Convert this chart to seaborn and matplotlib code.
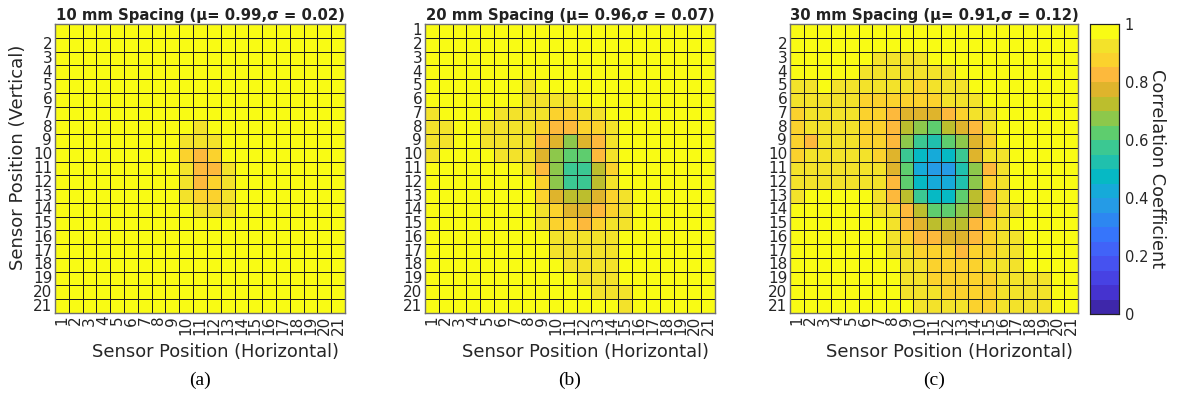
import numpy as np
import matplotlib
matplotlib.use("Agg")
import matplotlib.pyplot as plt
from matplotlib.colors import ListedColormap
import seaborn as sns

# ---------------- data ----------------
positions = [str(i) for i in range(1, 22)]
titles = ["10 mm Spacing (μ= 0.99,σ = 0.02)",
          "20 mm Spacing (μ= 0.96,σ = 0.07)",
          "30 mm Spacing (μ= 0.91,σ = 0.12)"]
panel_letters = ["(a)", "(b)", "(c)"]
cbar_ticks = [0, 0.2, 0.4, 0.6, 0.8, 1.0]
cbar_ticklabels = ["0", "0.2", "0.4", "0.6", "0.8", "1"]

corr_10mm = [
 [.99,.99,.99,.99,.99,.99,.99,.99,.99,.99,.99,.99,.99,.99,.99,.99,.99,.99,.99,.99,.99],
 [.99,.99,.99,.99,.99,.99,.99,.99,.99,.99,.99,.99,.99,.99,.99,.99,.99,.99,.99,.99,.99],
 [.99,.99,.99,.99,.99,.99,.99,.99,.99,.99,.99,.99,.99,.99,.99,.99,.99,.99,.99,.99,.99],
 [.99,.99,.99,.99,.99,.99,.99,.99,.99,.99,.99,.99,.99,.99,.99,.99,.99,.99,.99,.99,.99],
 [.99,.99,.99,.99,.99,.99,.99,.99,.99,.99,.99,.99,.99,.99,.99,.99,.99,.99,.99,.99,.99],
 [.99,.99,.99,.99,.99,.99,.99,.99,.99,.99,.99,.99,.99,.99,.99,.99,.99,.99,.99,.99,.99],
 [.99,.99,.99,.99,.99,.99,.99,.99,.99,.99,.99,.99,.99,.99,.99,.99,.99,.99,.99,.99,.99],
 [.99,.99,.99,.99,.99,.99,.99,.99,.99,.99,.93,.99,.99,.99,.99,.99,.99,.99,.99,.99,.99],
 [.99,.99,.99,.99,.99,.99,.99,.99,.99,.93,.93,.93,.99,.99,.99,.99,.99,.99,.99,.99,.99],
 [.99,.99,.99,.99,.99,.99,.99,.99,.99,.88,.83,.88,.99,.99,.99,.99,.99,.99,.99,.99,.99],
 [.99,.99,.99,.99,.99,.99,.99,.99,.99,.93,.83,.83,.93,.99,.99,.99,.99,.99,.99,.99,.99],
 [.99,.99,.99,.99,.99,.99,.99,.99,.99,.93,.83,.88,.93,.99,.99,.99,.99,.99,.99,.99,.99],
 [.99,.99,.99,.99,.99,.99,.99,.99,.99,.93,.88,.88,.93,.99,.99,.99,.99,.99,.99,.99,.99],
 [.99,.99,.99,.99,.99,.99,.99,.99,.99,.99,.93,.93,.93,.99,.99,.99,.99,.99,.99,.99,.99],
 [.99,.99,.99,.99,.99,.99,.99,.99,.99,.99,.99,.99,.99,.99,.99,.99,.99,.99,.99,.99,.99],
 [.99,.99,.99,.99,.99,.99,.99,.99,.99,.99,.99,.99,.99,.99,.99,.99,.99,.99,.99,.99,.99],
 [.99,.99,.99,.99,.99,.99,.99,.99,.99,.99,.99,.99,.99,.99,.99,.99,.99,.99,.99,.99,.99],
 [.99,.99,.99,.99,.99,.99,.99,.99,.99,.99,.99,.99,.99,.99,.99,.99,.99,.99,.99,.99,.99],
 [.99,.99,.99,.99,.99,.99,.99,.99,.99,.99,.99,.99,.99,.99,.99,.99,.99,.99,.99,.99,.99],
 [.99,.99,.99,.99,.99,.99,.99,.99,.99,.99,.99,.99,.99,.99,.99,.99,.99,.99,.99,.99,.99],
 [.99,.99,.99,.99,.99,.99,.99,.99,.99,.99,.99,.99,.99,.99,.99,.99,.99,.99,.99,.99,.99],
]

corr_20mm = [
 [.99,.99,.99,.99,.99,.99,.99,.99,.99,.99,.99,.99,.99,.99,.99,.99,.99,.99,.99,.99,.99],
 [.99,.99,.99,.99,.99,.99,.99,.99,.99,.99,.99,.99,.99,.99,.99,.99,.99,.99,.99,.99,.99],
 [.99,.99,.99,.99,.99,.99,.99,.99,.99,.99,.99,.99,.99,.99,.99,.99,.99,.99,.99,.99,.99],
 [.99,.99,.99,.99,.99,.99,.99,.99,.99,.99,.99,.99,.99,.99,.99,.99,.99,.99,.99,.99,.99],
 [.99,.99,.99,.99,.99,.99,.99,.93,.99,.99,.99,.99,.99,.99,.99,.99,.99,.99,.99,.99,.99],
 [.99,.99,.99,.99,.99,.99,.99,.93,.93,.93,.93,.99,.99,.99,.99,.99,.99,.99,.99,.99,.99],
 [.93,.99,.99,.99,.99,.93,.93,.93,.93,.88,.88,.93,.93,.99,.99,.99,.99,.99,.99,.99,.99],
 [.93,.93,.99,.99,.93,.93,.93,.93,.88,.83,.83,.88,.88,.93,.99,.99,.99,.99,.99,.99,.99],
 [.93,.93,.99,.99,.93,.93,.93,.93,.83,.78,.68,.78,.83,.93,.99,.99,.99,.99,.99,.99,.99],
 [.93,.99,.99,.99,.99,.93,.93,.93,.78,.68,.63,.63,.83,.93,.99,.99,.99,.99,.99,.99,.99],
 [.99,.99,.99,.99,.99,.99,.99,.93,.83,.68,.58,.58,.73,.88,.99,.99,.99,.99,.99,.99,.99],
 [.99,.99,.99,.99,.99,.99,.99,.99,.88,.68,.58,.58,.73,.93,.99,.99,.99,.99,.99,.99,.99],
 [.99,.99,.99,.99,.99,.99,.99,.99,.88,.78,.73,.73,.78,.88,.93,.99,.99,.99,.99,.99,.99],
 [.99,.99,.99,.99,.99,.99,.99,.99,.93,.88,.78,.78,.83,.88,.93,.99,.99,.99,.99,.99,.99],
 [.99,.99,.99,.99,.99,.99,.99,.99,.93,.88,.88,.83,.88,.93,.93,.99,.99,.99,.99,.99,.99],
 [.99,.99,.99,.99,.99,.99,.99,.99,.99,.93,.93,.93,.93,.93,.99,.99,.99,.99,.99,.99,.99],
 [.99,.99,.99,.99,.99,.99,.99,.99,.99,.93,.93,.93,.93,.93,.99,.99,.99,.99,.99,.99,.99],
 [.99,.99,.99,.99,.99,.99,.99,.99,.99,.99,.93,.93,.93,.93,.99,.99,.99,.99,.99,.99,.99],
 [.99,.99,.99,.99,.99,.99,.99,.99,.99,.99,.99,.93,.93,.93,.99,.99,.99,.99,.99,.99,.99],
 [.99,.99,.99,.99,.99,.99,.99,.99,.99,.99,.99,.99,.93,.93,.93,.99,.99,.99,.99,.99,.99],
 [.99,.99,.99,.99,.99,.99,.99,.99,.99,.99,.99,.99,.99,.99,.93,.99,.99,.99,.99,.99,.99],
]

corr_30mm = [
 [.99,.99,.99,.99,.99,.99,.99,.99,.99,.99,.99,.99,.99,.99,.99,.99,.99,.99,.99,.99,.99],
 [.99,.99,.99,.99,.99,.99,.99,.99,.99,.99,.99,.99,.99,.99,.99,.99,.99,.99,.99,.99,.99],
 [.99,.99,.99,.99,.99,.99,.93,.93,.93,.93,.99,.99,.99,.99,.99,.99,.99,.99,.99,.99,.99],
 [.99,.99,.99,.99,.99,.93,.93,.93,.93,.93,.93,.93,.99,.99,.99,.99,.99,.99,.99,.99,.99],
 [.93,.93,.99,.93,.93,.93,.93,.93,.93,.88,.93,.93,.93,.99,.99,.99,.99,.99,.99,.99,.99],
 [.93,.93,.93,.93,.93,.88,.88,.88,.88,.88,.88,.93,.93,.93,.99,.99,.99,.99,.99,.99,.99],
 [.88,.93,.93,.93,.93,.88,.88,.83,.78,.78,.78,.83,.88,.93,.93,.99,.99,.99,.99,.99,.99],
 [.88,.93,.93,.93,.93,.88,.88,.83,.73,.68,.63,.73,.78,.83,.93,.99,.99,.99,.99,.99,.99],
 [.88,.83,.93,.93,.93,.88,.88,.83,.68,.58,.53,.63,.68,.78,.88,.99,.99,.99,.99,.99,.99],
 [.88,.93,.93,.93,.93,.93,.88,.78,.58,.48,.43,.48,.58,.78,.93,.93,.99,.99,.99,.99,.99],
 [.93,.93,.93,.93,.93,.93,.93,.78,.63,.43,.38,.38,.53,.68,.83,.93,.99,.99,.99,.99,.99],
 [.93,.93,.93,.93,.93,.93,.93,.83,.63,.48,.43,.43,.53,.68,.88,.93,.99,.99,.99,.99,.99],
 [.93,.99,.99,.99,.99,.99,.93,.83,.73,.58,.48,.48,.63,.73,.83,.93,.99,.99,.99,.99,.99],
 [.99,.99,.99,.99,.99,.99,.93,.93,.83,.73,.63,.63,.68,.73,.83,.93,.93,.99,.99,.99,.99],
 [.99,.99,.99,.99,.99,.99,.99,.93,.83,.78,.73,.73,.73,.83,.88,.93,.99,.99,.99,.99,.99],
 [.99,.99,.99,.99,.99,.99,.99,.93,.88,.83,.83,.78,.78,.83,.88,.93,.93,.99,.99,.99,.99],
 [.99,.99,.99,.99,.99,.99,.99,.93,.93,.88,.88,.88,.83,.88,.88,.93,.93,.99,.99,.99,.99],
 [.99,.99,.99,.99,.99,.99,.99,.99,.93,.93,.88,.88,.88,.88,.93,.93,.93,.99,.99,.99,.99],
 [.99,.99,.99,.99,.99,.99,.99,.99,.93,.93,.88,.88,.88,.88,.88,.93,.93,.93,.93,.99,.99],
 [.99,.99,.99,.99,.99,.99,.99,.99,.93,.93,.93,.88,.88,.88,.88,.93,.93,.93,.93,.99,.99],
 [.99,.99,.99,.99,.99,.99,.99,.99,.99,.93,.93,.93,.93,.88,.88,.93,.93,.93,.93,.99,.99],
]

# ---------------- style ----------------
sns.set_style("white")
plt.rcParams["font.family"] = ["DejaVu Sans"]
TXT = "#262626"

# 20-level parula-like colormap (bottom -> top)
parula20 = ["#3e27aa", "#4533cf", "#4742e3", "#4652f0", "#4163f8",
            "#3675fb", "#2d87f1", "#259be6", "#16aad9", "#06b9c4",
            "#20c0ad", "#3bc892", "#5ecd6e", "#8dc84b", "#bcbe2d",
            "#dfb42c", "#fdb93c", "#fbd22d", "#f3e22a", "#f9fb14"]
cmap = ListedColormap(parula20)

W, H = 1185, 396
fig = plt.figure(figsize=(W / 100, H / 100), dpi=100)

ax_px = [(55, 290), (425, 290), (790, 288)]
top_px, bot_px = 24, 313
cbar_px = (1090, 29, 24, 314)

datasets = [corr_10mm, corr_20mm, corr_30mm]
ylabel_sets = [[""] + positions[1:], positions, [""] + positions[1:]]

cax = fig.add_axes([cbar_px[0] / W, 1 - cbar_px[3] / H, cbar_px[1] / W,
                    (cbar_px[3] - cbar_px[2]) / H])

for i, (data, (lx, wx)) in enumerate(zip(datasets, ax_px)):
    ax = fig.add_axes([lx / W, 1 - bot_px / H, wx / W, (bot_px - top_px) / H])
    arr = np.array(data)
    sns.heatmap(arr, ax=ax, cmap=cmap, vmin=0, vmax=1,
                linewidths=0.55, linecolor="#1e1e1e",
                xticklabels=positions, yticklabels=ylabel_sets[i],
                cbar=(i == 2), cbar_ax=cax if i == 2 else None,
                cbar_kws={"ticks": cbar_ticks} if i == 2 else None)
    for s in ax.spines.values():
        s.set_visible(True)
        s.set_color("#707070")
        s.set_linewidth(1.0)
    ax.tick_params(length=0, pad=2, labelsize=11, colors=TXT)
    plt.setp(ax.get_xticklabels(), rotation=90, ha="center", va="top")
    plt.setp(ax.get_yticklabels(), rotation=0, ha="right", va="center")
    ax.set_title(titles[i], fontsize=10.7, fontweight="bold", color="#222222", pad=3)
    cx = (lx + 160) / W
    fig.text(cx, 1 - 352 / H, "Sensor Position (Horizontal)", ha="center",
             va="center", fontsize=12.9, color=TXT)
    fig.text((lx + wx / 2) / W, 1 - 380 / H, panel_letters[i], ha="center",
             va="center", fontsize=14, family="Liberation Serif", color="black")

fig.text(18 / W, 1 - 157 / H, "Sensor Position (Vertical)", rotation=90,
         ha="center", va="center", fontsize=13, color=TXT)

cax.set_yticks(cbar_ticks)
cax.set_yticklabels(cbar_ticklabels)
cax.tick_params(direction="in", length=3, width=0.8, labelsize=10.5,
                colors=TXT, pad=4)
for s in cax.spines.values():
    s.set_visible(True)
    s.set_color("#222222")
    s.set_linewidth(0.8)
cax.set_ylabel("Correlation Coefficient", rotation=270, fontsize=12.8,
               color=TXT, labelpad=13)

fig.savefig("out.png", dpi=100)
